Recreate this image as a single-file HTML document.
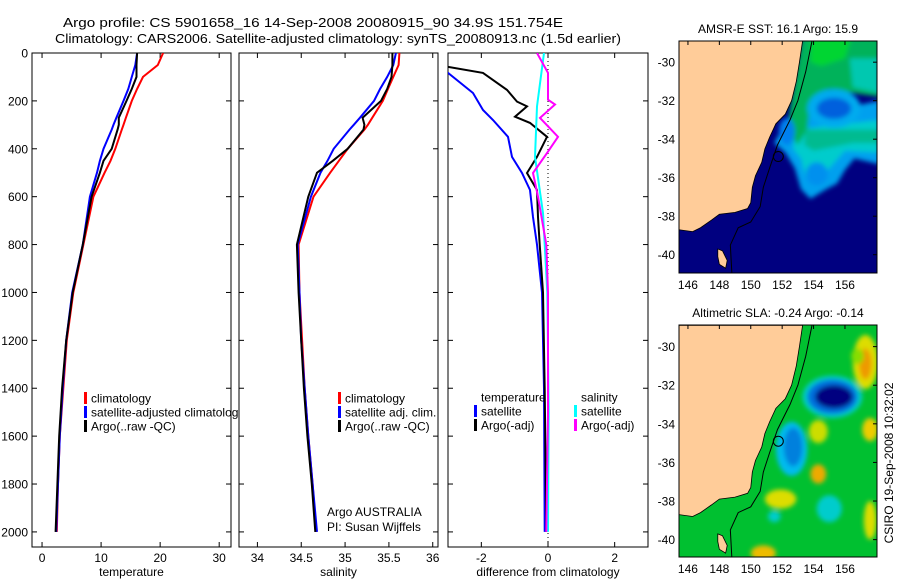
<!DOCTYPE html>
<html><head><meta charset="utf-8">
<style>
html,body{margin:0;padding:0;background:#fff;}
svg{display:block;font-family:"Liberation Sans",Arial,sans-serif;}
text{fill:#000;}
</style></head>
<body>
<svg id="fig" width="900" height="580" viewBox="0 0 900 580" xmlns="http://www.w3.org/2000/svg">
<defs>
<clipPath id="c1"><rect x="32" y="53" width="199" height="494"/></clipPath>
<clipPath id="c1l"><rect x="32" y="53" width="206" height="494"/></clipPath>
<clipPath id="c2"><rect x="239" y="53" width="199" height="494"/></clipPath>
<clipPath id="c3"><rect x="448" y="53" width="200" height="494"/></clipPath>
<clipPath id="m1"><rect x="679" y="41" width="198" height="232"/></clipPath>
<clipPath id="m2"><rect x="679" y="325" width="198" height="232"/></clipPath>
<filter id="blur" x="-20%" y="-20%" width="140%" height="140%"><feGaussianBlur stdDeviation="2.5"/></filter>
</defs>
<text x="313" y="27" font-size="13" text-anchor="middle" textLength="500" lengthAdjust="spacingAndGlyphs">Argo profile: CS 5901658_16 14-Sep-2008 20080915_90 34.9S 151.754E</text>
<text x="338" y="43" font-size="13" text-anchor="middle" textLength="566" lengthAdjust="spacingAndGlyphs">Climatology: CARS2006. Satellite-adjusted climatology: synTS_20080913.nc (1.5d earlier)</text>
<text transform="translate(893,463) rotate(-90)" font-size="12" text-anchor="middle">CSIRO 19-Sep-2008 10:32:02</text>
<g id="root"></g>
</svg>
<script>
// ---- profile data ----
const depths = [0,50,100,150,200,270,300,320,400,450,500,600,800,1000,1200,1400,1600,1800,2000];
const tempClim = [20.5,19.6,17.1,16.1,15.2,14.2,13.8,13.5,12.4,11.6,10.6,8.7,7.0,5.3,4.2,3.6,3.0,2.7,2.5];
const tempSat = [16.1,15.8,15.2,14.6,13.8,12.6,12.1,11.8,10.4,9.8,9.3,8.1,6.9,5.1,4.1,3.5,3.0,2.7,2.4];
const tempArgo = [16.1,16.0,16.0,15.2,14.3,13.0,13.0,12.8,11.8,10.4,9.8,8.4,6.9,5.2,4.1,3.4,2.9,2.6,2.3];
const salClim = [35.62,35.61,35.55,35.49,35.43,35.31,35.26,35.22,35.03,34.93,34.83,34.64,34.47,34.48,34.51,34.54,34.58,34.63,34.67];
const salSat = [35.58,35.55,35.48,35.40,35.33,35.17,35.10,35.05,34.87,34.80,34.72,34.61,34.46,34.48,34.50,34.54,34.58,34.63,34.68];
const salArgo = [35.54,35.54,35.53,35.48,35.41,35.20,35.22,35.21,35.03,34.86,34.68,34.58,34.45,34.47,34.50,34.53,34.57,34.62,34.66];
const dTempSatDepth = [0,83,167,238,280,350,434,501,572,685,800,1000,1400,2000];
const dTempSat = [-4.5,-3.0,-2.25,-1.95,-1.65,-1.2,-1.08,-0.78,-0.54,-0.45,-0.33,-0.18,-0.12,-0.1];
const dTempArgoDepth = [0,58,83,154,203,223,266,292,350,434,501,572,685,800,1000,1400,2000];
const dTempArgo = [-4,-3.0,-1.95,-1.23,-0.93,-0.63,-0.99,-0.54,-0.03,-0.33,-0.63,-0.33,-0.3,-0.25,-0.15,-0.1,-0.05];
const dSalSatDepth = [0,223,434,668,1000,1500,2000];
const dSalSat = [-0.12,-0.33,-0.39,-0.15,-0.02,0.02,0.0];
const dSalArgoDepth = [0,83,195,215,271,350,418,501,600,800,1000,1500,2000];
const dSalArgo = [-0.33,0,0,0.21,-0.24,0.3,-0.03,-0.45,-0.3,-0.05,0,0,-0.05];
const depthTicks = [0,200,400,600,800,1000,1200,1400,1600,1800,2000];
const tempTicks = [0,10,20,30];
const salTicks = [34,34.5,35,35.5,36];
const diffTicks = [-2,0,2];
const lonTicks = [146,148,150,152,154,156];
const latTicks = [-30,-32,-34,-36,-38,-40];

const NS='http://www.w3.org/2000/svg';
const root=document.getElementById('root');
function mk(tag,attrs,parent){const e=document.createElementNS(NS,tag);for(const k in attrs)e.setAttribute(k,attrs[k]);(parent||root).appendChild(e);return e;}
const Y0=53,Y1=547,DMAX=2063;
function yD(d){return Y0+(d/DMAX)*(Y1-Y0);}
function lin(d0,d1,r0,r1){return v=>r0+(v-d0)/(d1-d0)*(r1-r0);}
const panels=[
 {x0:32,x1:231,dom:[-1.7,32],ticks:tempTicks,label:'temperature',clip:'c1',name:'temperature-panel'},
 {x0:239,x1:438,dom:[33.79,36.06],ticks:salTicks,label:'salinity',clip:'c2',name:'salinity-panel'},
 {x0:448,x1:648,dom:[-3.0,3.0],ticks:diffTicks,label:'difference from climatology',clip:'c3',name:'difference-panel'}
];
panels.forEach((p,i)=>{
 p.sx=lin(p.dom[0],p.dom[1],p.x0,p.x1);
 const g=mk('g',{});
 
 
 const r=mk('rect',{x:p.x0,y:Y0,width:p.x1-p.x0,height:Y1-Y0,fill:'#fff',stroke:'#000','stroke-width':1},g);
 
 
 depthTicks.forEach(d=>{
  const y=yD(d);
  mk('line',{x1:p.x0,x2:p.x0+5,y1:y,y2:y,stroke:'#000'},g);
  mk('line',{x1:p.x1,x2:p.x1-5,y1:y,y2:y,stroke:'#000'},g);
  if(i===0){const t=mk('text',{x:28,y:y+4.5,'font-size':12,'text-anchor':'end'},g);t.textContent=d;
   
   }
 });
 p.ticks.forEach(v=>{
  const x=p.sx(v);
  mk('line',{x1:x,x2:x,y1:Y1,y2:Y1-5,stroke:'#000'},g);
  mk('line',{x1:x,x2:x,y1:Y0,y2:Y0+5,stroke:'#000'},g);
  const t=mk('text',{x:x,y:562,'font-size':12,'text-anchor':'middle'},g);t.textContent=v;
  
  
 });
 const xl=mk('text',{x:(p.x0+p.x1)/2,y:576,'font-size':12,'text-anchor':'middle'},g);xl.textContent=p.label;
 
 
});
{const x=panels[2].sx(0);const l=mk('line',{x1:x,x2:x,y1:Y0,y2:Y1,stroke:'#000','stroke-dasharray':'1,3'});
 
 }
function series(p,ds,vs,color,name){
 const pts=ds.map((d,i)=>p.sx(vs[i]).toFixed(1)+','+yD(d).toFixed(1)).join(' ');
 const el=mk('polyline',{points:pts,fill:'none',stroke:color,'stroke-width':2,'clip-path':'url(#'+p.clip+')'});
 
 
}
series(panels[0],depths,tempClim,'#f00','temp-climatology-line');
series(panels[0],depths,tempSat,'#00f','temp-satellite-line');
series(panels[0],depths,tempArgo,'#000','temp-argo-line');
series(panels[1],depths,salClim,'#f00','sal-climatology-line');
series(panels[1],depths,salSat,'#00f','sal-satellite-line');
series(panels[1],depths,salArgo,'#000','sal-argo-line');
series(panels[2],dTempSatDepth,dTempSat,'#00f','diff-temp-satellite-line');
series(panels[2],dTempArgoDepth,dTempArgo,'#000','diff-temp-argo-line');
series(panels[2],dSalSatDepth,dSalSat,'#0ff','diff-sal-satellite-line');
series(panels[2],dSalArgoDepth,dSalArgo,'#f0f','diff-sal-argo-line');
function legend(x,y,color,label,clip){
 const g=mk('g',clip?{'clip-path':'url(#'+clip+')'}:{});
 
 
 if(color)mk('rect',{x:x,y:y-6,width:3,height:12,fill:color},g);
 const t=mk('text',{x:x+7,y:y+4.5,'font-size':12},g);t.textContent=label;
}
legend(84,398,'#f00','climatology');
legend(84,412,'#00f','satellite-adjusted climatology','c1l');
legend(84,426,'#000','Argo(..raw -QC)');
legend(338,398,'#f00','climatology');
legend(338,412,'#00f','satellite adj. clim.');
legend(338,426,'#000','Argo(..raw -QC)');
legend(474,397,null,'temperature');
legend(474,411,'#00f','satellite');
legend(474,425,'#000','Argo(-adj)');
legend(574,397,null,'salinity');
legend(574,411,'#0ff','satellite');
legend(574,425,'#f0f','Argo(-adj)');
{const t=mk('text',{x:327,y:516,'font-size':12});t.textContent='Argo AUSTRALIA';
 
 
 const t2=mk('text',{x:327,y:531,'font-size':12});t2.textContent='PI: Susan Wijffels';
 
 }

// ---- maps ----
const coast=[[153.3,-28.9],[153.1,-30],[152.9,-31],[152.6,-32],[152.2,-32.7],[151.6,-33.2],[151.2,-33.9],[150.9,-34.5],[150.7,-35.2],[150.3,-35.9],[150.1,-36.5],[150.0,-37.3],[149.8,-37.6],[149.0,-37.8],[148.0,-37.9],[147.5,-38.2],[146.8,-38.6],[146.3,-38.8],[145.4,-38.7],[145.4,-28.9]];
const island=[[147.9,-39.7],[148.2,-39.8],[148.5,-40.3],[148.4,-40.7],[148.0,-40.5],[147.9,-40.1]];
const isobath=[[153.9,-28.9],[153.5,-30.5],[153.0,-32],[152.5,-33],[151.7,-34.3],[151.2,-35.5],[150.8,-36.5],[150.6,-37.5],[150.0,-38.3],[149.2,-38.6],[148.7,-39.5],[148.8,-41]];
const sstPolys=[
 [[[152.3,-33],[158.2,-32],[158.2,-35.3],[156.6,-35.0],[156,-35.6],[155.5,-36.3],[154.8,-36.6],[153.8,-37.1],[153.2,-36.6],[152.8,-35.5],[152.2,-34.7],[151.5,-34.2]],'#00a0ee'],
 [[[152.8,-33.5],[158.2,-33],[158.2,-34.7],[156,-34.6],[155,-35.5],[154.3,-36.2],[153.5,-36],[153.2,-35],[152.7,-34.5]],'#00cccc'],
 [[[153.3,-28.5],[158.2,-28.5],[158.2,-31.8],[156.5,-31.6],[155,-31.4],[153.8,-32],[153.6,-33.5],[153,-34.3],[152.3,-33.5],[152.8,-31]],'#00b25a'],
 [[[153.8,-28.5],[156.5,-28.5],[156,-29.8],[154.5,-30.2],[153.8,-30]],'#00d530'],
 [[[156.3,-29.8],[158.2,-29.8],[158.2,-31.6],[156.5,-31.3]],'#00c8b0'],
 [[[153.5,-33.5],[158.2,-33.5],[158.2,-34.2],[156.5,-34.2],[154,-34.6],[153.4,-34.3]],'#00bb90']
];
const sstBlobs=[[155.3,-32.4,1.7,1.0,'#00aaee'],[155.3,-32.4,1.1,0.55,'#0060dd'],[152.3,-33.6,0.5,0.7,'#0080ee'],[154.2,-35.8,0.7,0.6,'#0090ee']];
const slaBlobs=[
 [157.3,-30.8,0.8,1.4,'#dddd00'],[157.3,-30.9,0.4,0.8,'#ee9900'],[155.2,-32.6,1.9,1.1,'#00cccc'],[155.2,-32.6,1.6,0.9,'#0070dd'],[155.3,-32.6,1.2,0.6,'#000080'],
 [152.6,-35.3,1.0,1.4,'#00bbee'],[152.7,-35.2,0.6,1.0,'#0080dd'],[154.3,-34.4,0.6,0.6,'#ccdd00'],[157.6,-34.3,0.5,0.6,'#eecc00'],
 [154.3,-36.6,0.5,0.5,'#eeaa00'],[151.9,-37.9,1.0,0.5,'#dddd00'],[155,-38.4,0.8,0.7,'#00cccc'],[151.5,-38.8,0.4,0.3,'#00cccc'],[150.8,-40.7,0.8,0.4,'#eebb00'],[157.6,-39,0.4,1.0,'#dddd00'],[156.8,-30.5,0.4,0.4,'#88dd00']];
function drawMap(m){
 const sx=lin(145.43,158.04,679,877), sy=lin(m.latTop,m.latBot,m.y0,m.y1);
 const g=mk('g',{});
 
 
 const inner=mk('g',{'clip-path':'url(#'+m.clip+')'},g);
 mk('rect',{x:679,y:m.y0,width:198,height:m.y1-m.y0,fill:m.base},inner);
 const bl=mk('g',{filter:'url(#blur)'},inner);
 m.polys.forEach(p=>{const e=mk('polygon',{points:p[0].map(q=>sx(q[0])+','+sy(q[1])).join(' '),fill:p[1]},bl);
  
  });
 m.blobs.forEach(b=>{const e=mk('ellipse',{cx:sx(b[0]),cy:sy(b[1]),rx:b[2]*15.7,ry:b[3]*19.3,fill:b[4]},bl);
  
  });
 const land=mk('polygon',{points:coast.map(p=>sx(p[0])+','+sy(p[1])).join(' '),fill:'#ffcc99',stroke:'#000','stroke-width':0.8},inner);
 
 
 mk('polygon',{points:island.map(p=>sx(p[0])+','+sy(p[1])).join(' '),fill:'#ffcc99',stroke:'#000','stroke-width':0.8},inner);
 const iso=mk('polyline',{points:isobath.map(p=>sx(p[0])+','+sy(p[1])).join(' '),fill:'none',stroke:'#000','stroke-width':1},inner);
 
 
 const c=mk('circle',{cx:sx(151.754),cy:sy(-34.9),r:5,fill:'none',stroke:'#000','stroke-width':1},inner);
 
 
 mk('rect',{x:679,y:m.y0,width:198,height:m.y1-m.y0,fill:'none',stroke:'#000'},g);
 lonTicks.forEach(v=>{const x=sx(v);mk('line',{x1:x,x2:x,y1:m.y0,y2:m.y0+4,stroke:'#000'},g);
  const t=mk('text',{x:x,y:m.y1+16,'font-size':12,'text-anchor':'middle'},g);t.textContent=v;
  
  });
 latTicks.forEach(v=>{const y=sy(v);mk('line',{x1:877,x2:873,y1:y,y2:y,stroke:'#000'},g);
  const t=mk('text',{x:675,y:y+4.5,'font-size':12,'text-anchor':'end'},g);t.textContent=v;
  
  });
 const tt=mk('text',{x:778,y:m.y0-8,'font-size':12,'text-anchor':'middle'},g);tt.textContent=m.title;
 
 
}
drawMap({y0:41,y1:273,latTop:-28.9,latBot:-40.95,clip:'m1',base:'#000080',polys:sstPolys,blobs:sstBlobs,title:'AMSR-E SST: 16.1 Argo: 15.9',name:'sst-map'});
drawMap({y0:325,y1:557,latTop:-28.88,latBot:-40.9,clip:'m2',base:'#00c030',polys:[],blobs:slaBlobs,title:'Altimetric SLA: -0.24 Argo: -0.14',name:'sla-map'});
</script>
</body></html>
